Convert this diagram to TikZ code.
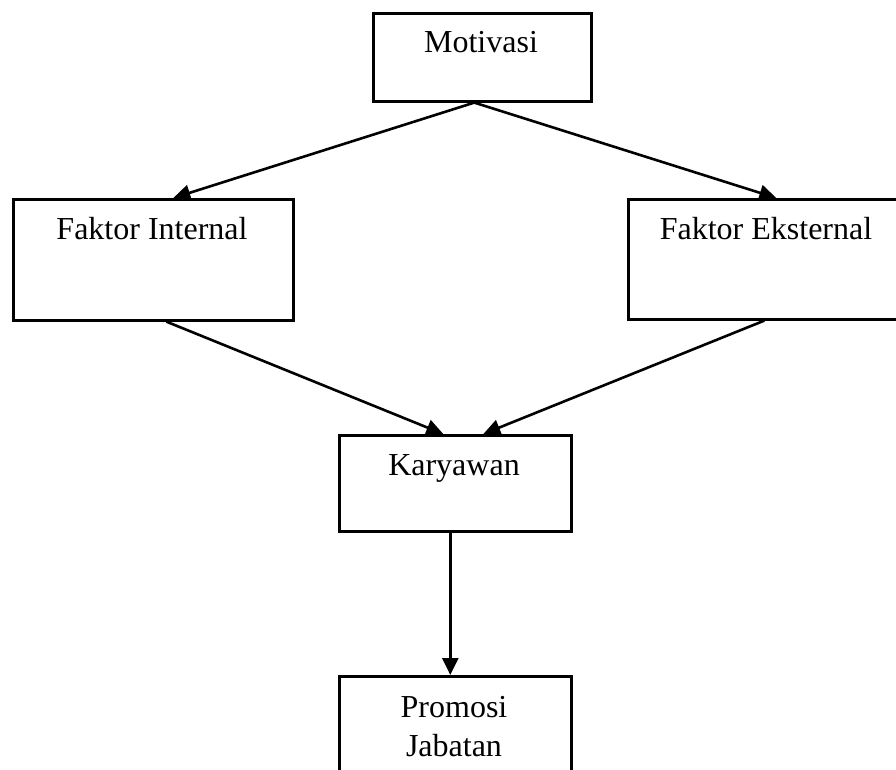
\documentclass[tikz,border=0pt]{standalone}
\usepackage{fontspec}
\setmainfont{Liberation Serif}
\usetikzlibrary{arrows.meta}
\begin{document}
\begin{tikzpicture}[x=1pt,y=-1pt,
 box/.style={draw,line width=2.6pt,inner sep=0pt,anchor=north west},
 lbl/.style={anchor=base,font=\fontsize{32}{37}\selectfont,inner sep=0pt},
 arr/.style={line width=2.6pt,-{Triangle[length=17pt,width=16pt]}}]
\useasboundingbox (0,0) rectangle (896,769);
\node[box,minimum width=218pt,minimum height=88pt] (mot) at (372,12) {};
\node[box,minimum width=280pt,minimum height=121pt] (int) at (12,198) {};
\node[box,minimum width=278pt,minimum height=120pt] (ext) at (627,198) {};
\node[box,minimum width=232pt,minimum height=96pt] (kar) at (338,434) {};
\node[box,minimum width=232pt,minimum height=125pt] (pro) at (338,675) {};
\node[lbl] (tmot) at (481,52) {Motivasi};
\node[lbl] (tint) at (152,239) {Faktor Internal};
\node[lbl] (text) at (766,239) {Faktor Eksternal};
\node[lbl] (tkar) at (454,475) {Karyawan};
\node[lbl] (tpro1) at (454,717) {Promosi};
\node[lbl] (tpro2) at (454,756) {Jabatan};
\draw[arr] ([xshift=-8pt]mot.south) -- ([xshift=20pt]int.north);
\draw[arr] ([xshift=-8pt]mot.south) -- ([xshift=9pt]ext.north);
\draw[arr] ([xshift=13pt]int.south) -- ([xshift=-12pt]kar.north);
\draw[arr] ([xshift=-3pt]ext.south) -- ([xshift=28pt]kar.north);
\draw[arr] ([xshift=-5pt]kar.south) -- ([xshift=-5pt]pro.north);
\end{tikzpicture}
\end{document}
